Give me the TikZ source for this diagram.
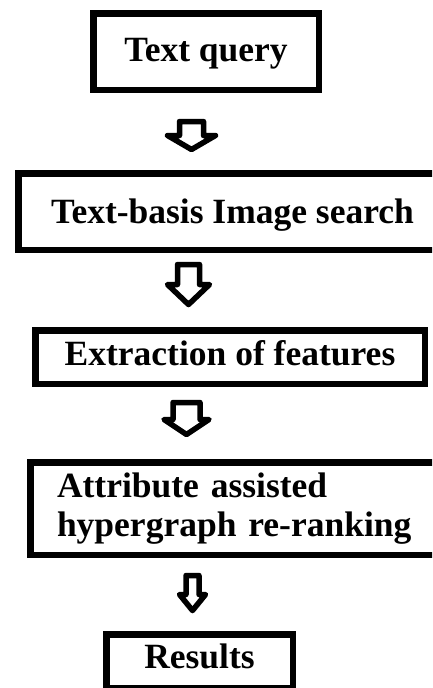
\documentclass[tikz,border=0pt]{standalone}
\usepackage{fontspec}
\setmainfont{Liberation Serif}
\newcommand\blockarr[6]{%
  \draw[blockarrow] (#1-#5,#2) -- (#1+#5,#2) -- (#1+#5,#3) -- (#1+#6,#3) -- (#1,#4)
    -- (#1-#6,#3) -- (#1-#5,#3) -- cycle;}
\begin{document}
\begin{tikzpicture}[x=1pt,y=-1pt,
  box/.style={draw=black, line width=6.5pt, fill=white, inner sep=0pt,
    font=\bfseries\fontsize{35.5}{39}\selectfont, text height=24pt},
  blockarrow/.style={draw=black, line width=5.5pt, line join=round, fill=white}]
\useasboundingbox (0,0) rectangle (432,688);
\clip (0,0) rectangle (432,688);
\fill[white] (0,0) rectangle (432,688);
% boxes
\node[box, minimum width=225.5pt, minimum height=76.5pt, text depth=3.6pt] (q) at (206,51.5) {Text query\hspace{8pt}};
\node[box, minimum width=428.5pt, minimum height=76.5pt, text depth=1pt] (s) at (232.5,211.5) {Text-basis Image search};
\node[box, minimum width=389.5pt, minimum height=53.5pt, text depth=8pt] (f) at (230,357) {Extraction of features};
\node[box, minimum width=416.5pt, minimum height=92.5pt, inner xsep=26.75pt, text width=363pt, align=left] (h) at (238.5,508.5) {Attribute assisted\\hypergraph re-ranking};
\node[box, minimum width=186.5pt, minimum height=54pt, text depth=10.5pt] (r) at (199.5,661.25) {Results\hspace{16pt}};
% block arrows
\blockarr{191.5}{121.5}{135.5}{149.5}{12}{24}
\blockarr{188.5}{264.5}{284.5}{304.5}{11}{21}
\blockarr{186.5}{402.5}{419.5}{434.5}{13.5}{22.5}
\blockarr{192.5}{575.5}{594.5}{610.5}{6.5}{13}
\end{tikzpicture}
\end{document}
